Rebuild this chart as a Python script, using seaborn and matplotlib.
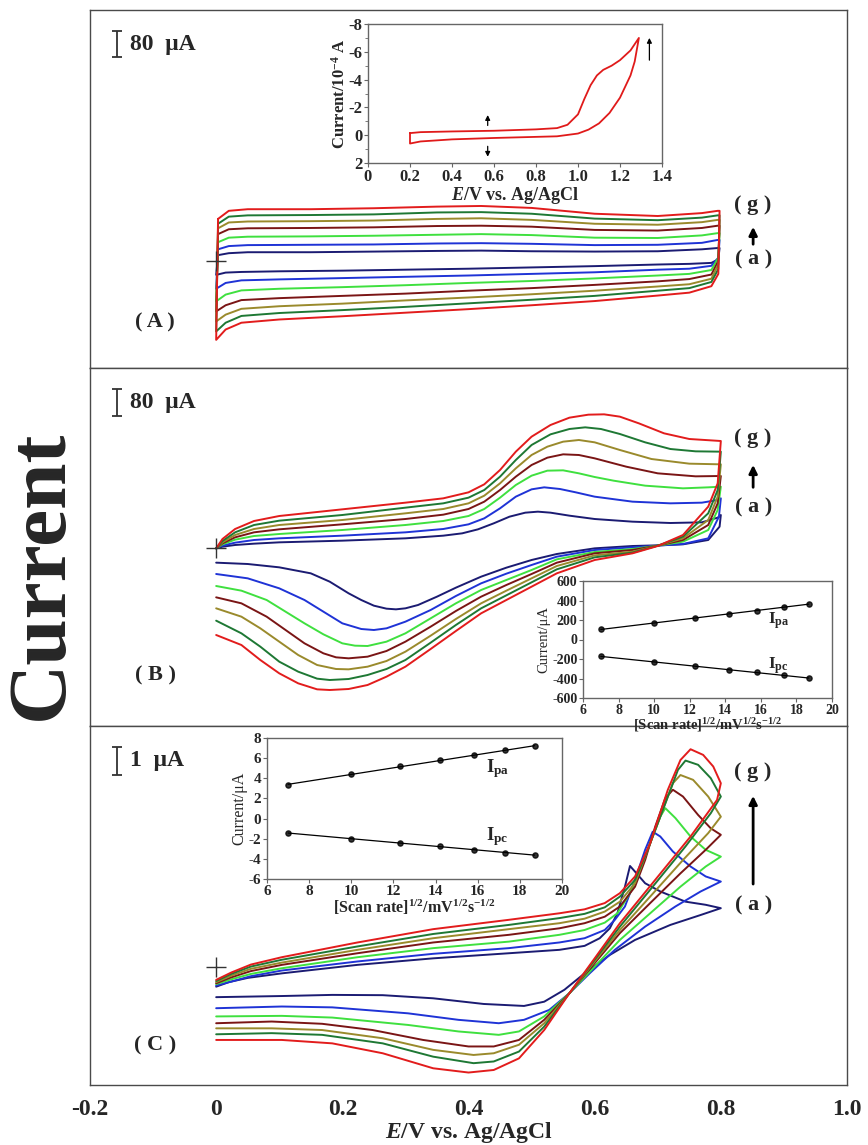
"""
Cyclic voltammograms at increasing scan rates (a -> g), three panels
with insets (blank CV, and peak current vs sqrt(scan rate)).
"""
import numpy as np
import matplotlib
matplotlib.use('Agg')
import matplotlib.pyplot as plt
import seaborn as sns

sns.set_style('white')
plt.rcParams['font.family'] = ['Liberation Serif', 'DejaVu Serif']
plt.rcParams['axes.unicode_minus'] = False
plt.rcParams['mathtext.fontset'] = 'custom'
plt.rcParams['mathtext.rm'] = 'Liberation Serif:bold'
plt.rcParams['mathtext.it'] = 'Liberation Serif:italic:bold'
plt.rcParams['mathtext.bf'] = 'Liberation Serif:bold'

#%% data
curve_ids = ['a', 'b', 'c', 'd', 'e', 'f', 'g']
curve_colors = ['#1b1b72', '#1f33d6', '#3fe03f', '#7a1515', '#9a8a2c', '#1e7834', '#e21c1c']

# panel A (uA) - capacitive loops, shared potential grids
A_fwd_E = [0.003, 0.02, 0.05, 0.15, 0.25, 0.35, 0.42, 0.5, 0.6, 0.7, 0.77, 0.795]
A_fwd = {
    'a': [18, 24, 27, 27, 29, 31, 32, 30, 29, 30, 36, 40],
    'b': [36, 46, 49, 50, 51, 54, 55, 53, 49, 50, 56, 65],
    'c': [58, 72, 75, 76, 78, 81, 83, 80, 72, 71, 79, 86],
    'd': [83, 98, 101, 102, 104, 108, 109, 106, 96, 94, 102, 109],
    'e': [101, 119, 122, 123, 125, 130, 132, 127, 115, 112, 120, 127],
    'f': [115, 137, 141, 142, 144, 150, 151, 146, 131, 126, 134, 141],
    'g': [130, 155, 160, 160, 163, 168, 170, 164, 146, 139, 148, 155],
}
A_rev_E = [0.798, 0.796, 0.785, 0.75, 0.7, 0.6, 0.5, 0.4, 0.3, 0.2, 0.1, 0.04, 0.015, 0.0]
A_rev = {
    'a': [40, 5, -6, -9, -11, -16, -20, -24, -27, -30, -32, -34, -36, -43],
    'b': [65, 10, -15, -24, -27, -35, -40, -45, -49, -53, -57, -60, -68, -86],
    'c': [86, 10, -28, -40, -45, -54, -62, -68, -75, -81, -86, -91, -104, -125],
    'd': [109, 0, -42, -56, -63, -74, -84, -92, -101, -108, -115, -121, -137, -156],
    'e': [127, -10, -55, -72, -79, -92, -103, -113, -122, -132, -140, -148, -166, -187],
    'f': [141, -25, -65, -84, -92, -108, -120, -131, -142, -152, -161, -170, -191, -218],
    'g': [155, -40, -78, -98, -107, -124, -137, -149, -160, -171, -181, -191, -212, -244],
}

# panel B (uA), (E, I) pairs
B_fwd = {
    'a': [(0, 0), (0.01, 5), (0.03, 10), (0.06, 14), (0.1, 18), (0.2, 23), (0.3, 30), (0.36, 38), (0.39, 45),
          (0.415, 57), (0.44, 75), (0.465, 95), (0.49, 107), (0.51, 110), (0.53, 107), (0.56, 98), (0.6, 88),
          (0.66, 80), (0.72, 76), (0.77, 78), (0.795, 92), (0.8, 100)],
    'b': [(0, 0), (0.01, 8), (0.03, 17), (0.06, 25), (0.1, 30), (0.2, 38), (0.3, 48), (0.36, 58), (0.4, 72),
          (0.425, 90), (0.45, 120), (0.475, 155), (0.5, 177), (0.52, 183), (0.545, 178), (0.57, 168), (0.6, 155),
          (0.66, 140), (0.72, 135), (0.77, 137), (0.795, 145), (0.8, 150)],
    'c': [(0, 0), (0.01, 12), (0.03, 26), (0.06, 37), (0.1, 43), (0.2, 55), (0.3, 70), (0.36, 82), (0.4, 97),
          (0.425, 118), (0.45, 152), (0.475, 190), (0.5, 218), (0.525, 233), (0.55, 234), (0.575, 225),
          (0.6, 214), (0.63, 203), (0.68, 188), (0.74, 180), (0.78, 183), (0.8, 185)],
    'd': [(0, 0), (0.01, 15), (0.03, 33), (0.06, 48), (0.1, 57), (0.2, 72), (0.3, 88), (0.36, 101), (0.4, 118),
          (0.425, 140), (0.45, 175), (0.475, 215), (0.5, 250), (0.525, 272), (0.55, 282), (0.575, 280),
          (0.6, 270), (0.65, 245), (0.7, 225), (0.76, 216), (0.8, 217)],
    'e': [(0, 0), (0.01, 18), (0.03, 40), (0.06, 58), (0.1, 70), (0.2, 85), (0.3, 105), (0.36, 118), (0.4, 135),
          (0.425, 158), (0.45, 195), (0.475, 240), (0.5, 280), (0.525, 305), (0.55, 320), (0.575, 325),
          (0.6, 318), (0.64, 295), (0.69, 268), (0.75, 254), (0.8, 252)],
    'f': [(0, 0), (0.01, 22), (0.03, 48), (0.06, 70), (0.1, 83), (0.2, 100), (0.3, 122), (0.36, 135), (0.4, 152),
          (0.425, 175), (0.45, 215), (0.475, 265), (0.5, 310), (0.53, 342), (0.56, 358), (0.585, 363),
          (0.61, 358), (0.64, 343), (0.68, 318), (0.72, 298), (0.76, 291), (0.8, 290)],
    'g': [(0, 0), (0.01, 28), (0.03, 58), (0.06, 82), (0.1, 97), (0.2, 117), (0.3, 137), (0.36, 150), (0.4, 168),
          (0.425, 192), (0.45, 235), (0.475, 290), (0.5, 335), (0.53, 370), (0.56, 392), (0.59, 401),
          (0.615, 402), (0.64, 395), (0.67, 375), (0.71, 345), (0.75, 328), (0.8, 322)],
}
B_rev = {
    'a': [(0.8, 100), (0.798, 65), (0.78, 25), (0.74, 12), (0.7, 9), (0.66, 7), (0.6, 0), (0.54, -17), (0.5, -35),
          (0.46, -58), (0.42, -85), (0.38, -118), (0.35, -145), (0.32, -170), (0.3, -180), (0.285, -183),
          (0.27, -181), (0.25, -172), (0.23, -155), (0.21, -135), (0.18, -100), (0.15, -75), (0.1, -57),
          (0.05, -47), (0, -43)],
    'b': [(0.8, 150), (0.797, 95), (0.78, 30), (0.74, 13), (0.7, 8), (0.66, 3), (0.6, -5), (0.54, -25), (0.5, -50),
          (0.46, -76), (0.42, -105), (0.38, -143), (0.34, -185), (0.3, -220), (0.27, -240), (0.25, -245),
          (0.23, -242), (0.2, -225), (0.17, -190), (0.14, -155), (0.1, -120), (0.05, -90), (0, -77)],
    'c': [(0.8, 185), (0.795, 115), (0.78, 55), (0.74, 20), (0.7, 8), (0.66, -2), (0.6, -11), (0.54, -33),
          (0.5, -65), (0.46, -95), (0.42, -125), (0.38, -165), (0.34, -210), (0.3, -255), (0.27, -280),
          (0.24, -293), (0.22, -292), (0.2, -285), (0.17, -258), (0.14, -225), (0.11, -190), (0.08, -155),
          (0.04, -127), (0, -113)],
    'd': [(0.8, 217), (0.795, 135), (0.78, 70), (0.74, 25), (0.7, 8), (0.66, -5), (0.6, -15), (0.54, -43),
          (0.5, -77), (0.46, -110), (0.42, -145), (0.38, -188), (0.34, -235), (0.3, -280), (0.27, -308),
          (0.24, -325), (0.21, -330), (0.19, -327), (0.17, -315), (0.14, -285), (0.11, -245), (0.08, -205),
          (0.04, -165), (0, -147)],
    'e': [(0.8, 252), (0.795, 155), (0.78, 85), (0.74, 30), (0.7, 8), (0.66, -10), (0.6, -21), (0.54, -53),
          (0.5, -90), (0.46, -127), (0.42, -165), (0.38, -212), (0.34, -262), (0.3, -310), (0.27, -338),
          (0.24, -355), (0.21, -363), (0.19, -362), (0.16, -350), (0.13, -320), (0.1, -280), (0.07, -240),
          (0.04, -205), (0, -180)],
    'f': [(0.8, 290), (0.795, 175), (0.78, 105), (0.74, 35), (0.7, 8), (0.66, -13), (0.6, -27), (0.54, -63),
          (0.5, -102), (0.46, -141), (0.42, -180), (0.38, -230), (0.34, -283), (0.3, -335), (0.27, -362),
          (0.24, -380), (0.21, -392), (0.18, -395), (0.16, -391), (0.13, -370), (0.1, -340), (0.07, -295),
          (0.04, -255), (0, -217)],
    'g': [(0.8, 322), (0.795, 195), (0.78, 125), (0.74, 40), (0.7, 7), (0.66, -15), (0.6, -35), (0.54, -75),
          (0.5, -115), (0.46, -155), (0.42, -195), (0.38, -248), (0.34, -302), (0.3, -355), (0.27, -385),
          (0.24, -410), (0.21, -422), (0.18, -425), (0.16, -423), (0.13, -405), (0.1, -375), (0.07, -335),
          (0.04, -290), (0, -260)],
}

# panel C (uA), (E, I) pairs
C_fwd = {
    'a': [(0, -0.71), (0.02, -0.55), (0.05, -0.4), (0.104, -0.24), (0.224, 0.06), (0.344, 0.29), (0.464, 0.47),
          (0.544, 0.59), (0.584, 0.73), (0.608, 1.0), (0.624, 1.35), (0.636, 1.88), (0.648, 2.82), (0.656, 3.55),
          (0.664, 3.35), (0.68, 2.94), (0.704, 2.65), (0.744, 2.29), (0.776, 2.18), (0.8, 2.06)],
    'b': [(0, -0.67), (0.024, -0.53), (0.055, -0.34), (0.104, -0.14), (0.224, 0.18), (0.344, 0.45), (0.464, 0.65),
          (0.544, 0.85), (0.584, 1.0), (0.616, 1.29), (0.632, 1.65), (0.648, 2.12), (0.664, 3.06), (0.68, 4.12),
          (0.692, 4.76), (0.704, 4.59), (0.724, 4.06), (0.752, 3.53), (0.776, 3.18), (0.8, 3.0)],
    'c': [(0, -0.62), (0.024, -0.45), (0.055, -0.26), (0.104, -0.06), (0.224, 0.33), (0.344, 0.65), (0.464, 0.88),
          (0.544, 1.12), (0.584, 1.29), (0.616, 1.55), (0.636, 1.88), (0.656, 2.59), (0.672, 3.41), (0.688, 4.35),
          (0.704, 5.29), (0.712, 5.59), (0.728, 5.24), (0.752, 4.59), (0.776, 4.12), (0.8, 3.88)],
    'd': [(0, -0.59), (0.024, -0.38), (0.055, -0.16), (0.104, 0.06), (0.224, 0.47), (0.344, 0.85), (0.464, 1.12),
          (0.544, 1.35), (0.584, 1.53), (0.616, 1.76), (0.64, 2.12), (0.664, 2.82), (0.68, 3.76), (0.696, 4.94),
          (0.712, 5.94), (0.724, 6.24), (0.74, 6.0), (0.764, 5.35), (0.784, 4.88), (0.8, 4.65)],
    'e': [(0, -0.55), (0.024, -0.32), (0.055, -0.08), (0.104, 0.14), (0.224, 0.59), (0.344, 1.0), (0.464, 1.32),
          (0.544, 1.53), (0.584, 1.69), (0.616, 1.94), (0.64, 2.29), (0.664, 2.94), (0.68, 3.88), (0.704, 5.29),
          (0.724, 6.47), (0.736, 6.76), (0.756, 6.59), (0.78, 6.0), (0.8, 5.29)],
    'f': [(0, -0.51), (0.024, -0.26), (0.055, 0.0), (0.104, 0.24), (0.224, 0.71), (0.344, 1.15), (0.464, 1.47),
          (0.544, 1.71), (0.584, 1.86), (0.616, 2.09), (0.64, 2.47), (0.664, 3.06), (0.684, 4.12), (0.712, 5.76),
          (0.732, 6.94), (0.744, 7.27), (0.764, 7.12), (0.784, 6.65), (0.8, 6.0)],
    'g': [(0, -0.47), (0.024, -0.21), (0.055, 0.07), (0.104, 0.33), (0.224, 0.85), (0.344, 1.32), (0.464, 1.65),
          (0.544, 1.88), (0.584, 2.02), (0.616, 2.24), (0.64, 2.59), (0.664, 3.18), (0.688, 4.35), (0.716, 6.24),
          (0.736, 7.29), (0.752, 7.67), (0.772, 7.47), (0.788, 7.06), (0.8, 6.47)],
}
C_rev = {
    'a': [(0.8, 2.06), (0.768, 1.82), (0.72, 1.47), (0.664, 0.94), (0.624, 0.41), (0.584, -0.24), (0.552, -0.82),
          (0.52, -1.24), (0.488, -1.39), (0.424, -1.32), (0.344, -1.12), (0.264, -1.01), (0.184, -1.0),
          (0.104, -1.04), (0, -1.08)],
    'b': [(0.8, 3.0), (0.768, 2.65), (0.728, 2.12), (0.68, 1.41), (0.632, 0.59), (0.592, -0.24), (0.56, -0.94),
          (0.528, -1.53), (0.488, -1.88), (0.448, -2.0), (0.384, -1.88), (0.304, -1.65), (0.184, -1.44),
          (0.104, -1.41), (0, -1.47)],
    'c': [(0.8, 3.88), (0.776, 3.53), (0.736, 2.82), (0.688, 1.88), (0.64, 0.94), (0.6, 0.0), (0.56, -0.94),
          (0.52, -1.76), (0.48, -2.29), (0.448, -2.41), (0.384, -2.29), (0.304, -2.06), (0.184, -1.8),
          (0.104, -1.74), (0, -1.76)],
    'd': [(0.8, 4.65), (0.776, 4.12), (0.736, 3.29), (0.688, 2.24), (0.64, 1.18), (0.6, 0.12), (0.56, -0.94),
          (0.52, -1.88), (0.48, -2.59), (0.44, -2.82), (0.4, -2.82), (0.328, -2.59), (0.248, -2.24),
          (0.168, -2.02), (0.088, -1.94), (0, -2.0)],
    'e': [(0.8, 5.29), (0.78, 4.71), (0.74, 3.76), (0.688, 2.47), (0.64, 1.29), (0.6, 0.18), (0.56, -0.94),
          (0.52, -2.0), (0.48, -2.76), (0.44, -3.06), (0.408, -3.12), (0.344, -2.94), (0.264, -2.53),
          (0.168, -2.24), (0.088, -2.18), (0, -2.18)],
    'f': [(0.8, 6.0), (0.784, 5.41), (0.744, 4.24), (0.688, 2.71), (0.64, 1.41), (0.6, 0.24), (0.56, -0.94),
          (0.52, -2.12), (0.48, -3.0), (0.44, -3.35), (0.408, -3.41), (0.344, -3.18), (0.264, -2.71),
          (0.168, -2.41), (0.088, -2.35), (0, -2.39)],
    'g': [(0.8, 6.47), (0.794, 5.88), (0.752, 4.59), (0.696, 3.06), (0.64, 1.53), (0.6, 0.29), (0.56, -0.94),
          (0.52, -2.24), (0.48, -3.24), (0.44, -3.65), (0.4, -3.74), (0.344, -3.59), (0.264, -3.06),
          (0.184, -2.71), (0.104, -2.59), (0, -2.59)],
}

# inset A: blank CV (current in 1e-4 A, plotted on an inverted axis)
insA_fwd_E = [0.2, 0.25, 0.4, 0.6, 0.8, 0.9, 0.95, 1.0, 1.03, 1.06, 1.09, 1.12, 1.16, 1.2, 1.25, 1.29]
insA_fwd_I = [-0.15, -0.22, -0.27, -0.32, -0.42, -0.51, -0.75, -1.5, -2.6, -3.6, -4.3, -4.7, -5.0, -5.4, -6.1, -7.0]
insA_rev_E = [1.29, 1.27, 1.25, 1.2, 1.15, 1.1, 1.05, 1.0, 0.9, 0.6, 0.4, 0.25, 0.2, 0.2]
insA_rev_I = [-7.0, -5.3, -4.3, -2.7, -1.6, -0.85, -0.4, -0.12, 0.08, 0.2, 0.3, 0.45, 0.6, -0.15]

# insets B and C: peak currents vs sqrt(scan rate)
sqrt_scan = [7.0, 10.0, 12.3, 14.2, 15.8, 17.3, 18.7]
B_Ipa = [105, 170, 218, 260, 297, 333, 365]
B_Ipc = [-172, -232, -276, -308, -338, -368, -397]
C_Ipa = [3.3, 4.46, 5.19, 5.78, 6.31, 6.77, 7.17]
C_Ipc = [-1.44, -2.0, -2.43, -2.76, -3.09, -3.39, -3.62]

xticks_main = [-0.2, 0, 0.2, 0.4, 0.6, 0.8, 1.0]
xticklabels_main = ['-0.2', '0', '0.2', '0.4', '0.6', '0.8', '1.0']

#%% figure
W, H = 868, 1145
fig = plt.figure(figsize=(W / 100, H / 100), dpi=100)


def px_axes(x0, y0, x1, y1):
    return fig.add_axes([x0 / W, 1 - y1 / H, (x1 - x0) / W, (y1 - y0) / H])


def style_panel(ax, ylim):
    ax.set_xlim(-0.2, 1.0)
    ax.set_ylim(*ylim)
    ax.set_yticks([])
    ax.set_xticks([])
    ax.set_xlabel('')
    ax.set_ylabel('')
    for sp in ax.spines.values():
        sp.set_color('#4a4a4a')
        sp.set_linewidth(1.0)
        sp.set_visible(True)


axA = px_axes(90, 10, 847, 368)
axB = px_axes(90, 368, 847, 726)
axC = px_axes(90, 726, 847, 1085)

lw = 1.4
for cid, col in zip(curve_ids, curve_colors):
    e = np.concatenate([A_fwd_E, A_rev_E, A_fwd_E[:1]])
    i = np.concatenate([A_fwd[cid], A_rev[cid], A_fwd[cid][:1]])
    sns.lineplot(x=e, y=i, sort=False, estimator=None, color=col, lw=lw, ax=axA)
    for ax, fwd, rev in ((axB, B_fwd, B_rev), (axC, C_fwd, C_rev)):
        pts = np.array(fwd[cid] + rev[cid])
        sns.lineplot(x=pts[:, 0], y=pts[:, 1], sort=False, estimator=None, color=col, lw=lw, ax=ax)

style_panel(axA, (-331, 776))
style_panel(axB, (-533, 541))
style_panel(axC, (-4.18, 8.49))

# bottom axis
axC.set_xticks(xticks_main)
axC.set_xticklabels(xticklabels_main, fontsize=17, fontweight='bold')
axC.tick_params(axis='x', direction='out', length=7, width=1, color='#4a4a4a', pad=3)
axC.set_xlabel('$E$/V vs. Ag/AgCl', fontsize=17, fontweight='bold', labelpad=0)

fig.text(42 / W, 1 - 575 / H, 'Current', rotation=90, fontsize=60, fontweight='bold',
         ha='center', va='center')

# per-panel decorations: origin cross, scale bar, labels
panel_info = [
    (axA, 670, 80, '80  μA', '( A )', (0.126, 0.455, 0.338, 0.402, 0.302)),
    (axB, 438, 80, '80  μA', '( B )', (0.142, 0.804, 0.659, 0.737, 0.609)),
    (axC, 7.26, 1, '1  μA', '( C )', (0.111, 0.872, 0.552, 0.813, 0.501)),
]
for ax, yc, bar, bar_txt, letter, (fy_let, fy_g, fy_a0, fy_a1, fy_a) in panel_info:
    ax.plot([0], [0], marker='+', ms=15, mew=1.0, color='#333333')
    ax.errorbar([-0.157], [yc], yerr=[bar / 2], color='#333333', lw=1.3, capsize=3.5, capthick=1.3)
    ax.text(-0.136, yc, bar_txt, fontsize=17, fontweight='bold', ha='left', va='center')
    ax.text(0.086, fy_let, letter, transform=ax.transAxes, fontsize=16, fontweight='bold',
            ha='center', va='center')
    ax.text(0.876, fy_g, '( g )', transform=ax.transAxes, fontsize=16, fontweight='bold',
            ha='center', va='center')
    ax.text(0.876, fy_a, '( a )', transform=ax.transAxes, fontsize=16, fontweight='bold',
            ha='center', va='center')
    ax.annotate('', xy=(0.876, fy_a1), xytext=(0.876, fy_a0), xycoords='axes fraction',
                arrowprops=dict(arrowstyle='-|>', color='black', lw=2, mutation_scale=12))


def style_inset(ax, tick_fs):
    for sp in ax.spines.values():
        sp.set_color('#666666')
        sp.set_linewidth(1.0)
        sp.set_visible(True)
    ax.tick_params(direction='out', length=3, width=0.8, color='#666666', pad=1,
                   labelsize=tick_fs, left=True, bottom=True)
    for lbl in ax.get_xticklabels() + ax.get_yticklabels():
        lbl.set_fontweight('bold')
    ax.set_facecolor('white')


# inset A
insA = px_axes(368, 24, 662, 163)
sns.lineplot(x=insA_fwd_E + insA_rev_E, y=insA_fwd_I + insA_rev_I, sort=False, estimator=None,
             color='#e01a1a', lw=1.3, ax=insA)
insA.set_xlim(0, 1.4)
insA.set_ylim(2, -8)
insA.set_xticks([0, 0.2, 0.4, 0.6, 0.8, 1.0, 1.2, 1.4])
insA.set_xticklabels(['0', '0.2', '0.4', '0.6', '0.8', '1.0', '1.2', '1.4'])
insA.set_yticks([-8, -6, -4, -2, 0, 2])
insA.set_yticks([-7, -5, -3, -1, 1], minor=True)
insA.tick_params(which='minor', direction='out', length=2, color='#666666', left=True)
style_inset(insA, 12)
insA.set_xlabel('$E$/V vs. Ag/AgCl', fontsize=13, fontweight='bold', labelpad=0)
insA.set_ylabel('Current/10$^{-4}$ A', fontsize=12, fontweight='bold', labelpad=0)
arrow_kw = dict(arrowstyle='-|>', color='black', lw=0.9, mutation_scale=7)
insA.annotate('', xy=(0.57, -1.65), xytext=(0.57, -0.5), arrowprops=arrow_kw)
insA.annotate('', xy=(0.57, 1.75), xytext=(0.57, 0.6), arrowprops=arrow_kw)
insA.annotate('', xy=(1.34, -7.2), xytext=(1.34, -5.2), arrowprops=arrow_kw)

# insets B and C
scan_label = '[Scan rate]$^{1/2}$/mV$^{1/2}$s$^{-1/2}$'
for (x0, y0, x1, y1), ipa, ipc, ylim, yticks, fs, lab_y in [
        ((583, 581, 832, 698), B_Ipa, B_Ipc, (-600, 600), np.arange(-600, 601, 200), 10, (190, -265)),
        ((267, 738, 562, 879), C_Ipa, C_Ipc, (-6, 8), np.arange(-6, 9, 2), 11, (5.0, -1.8))]:
    ins = px_axes(x0, y0, x1, y1)
    for vals in (ipa, ipc):
        sns.regplot(x=np.array(sqrt_scan), y=np.array(vals), ci=None, ax=ins,
                    scatter_kws=dict(s=14, color='black', zorder=3),
                    line_kws=dict(color='black', lw=0.9))
    ins.set_xlim(6, 20)
    ins.set_ylim(*ylim)
    ins.set_xticks(np.arange(6, 21, 2))
    ins.set_yticks(yticks)
    style_inset(ins, fs)
    ins.set_xlabel(scan_label, fontsize=fs + 0.5, fontweight='bold', labelpad=0)
    ins.set_ylabel('Current/μA', fontsize=fs + 0.5, labelpad=1)
    ins.text(16.4, lab_y[0], 'I$_{\\rm pa}$', fontsize=fs + 2.5, fontweight='bold', va='center')
    ins.text(16.4, lab_y[1], 'I$_{\\rm pc}$', fontsize=fs + 2.5, fontweight='bold', va='center')

fig.savefig('out.png', dpi=100, facecolor='white')
